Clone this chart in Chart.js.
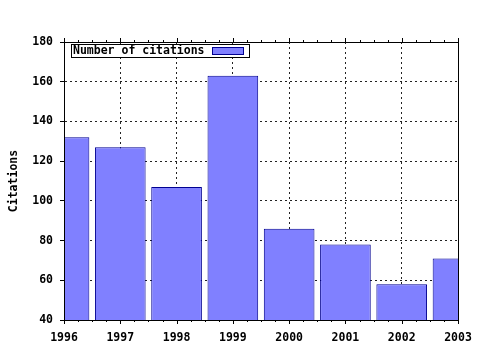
<!DOCTYPE html>
<html>
<head>
<meta charset="utf-8">
<script src="https://cdn.jsdelivr.net/npm/chart.js@4/dist/chart.umd.min.js"></script>
<style>
  html, body { margin: 0; padding: 0; background: #fff; }
  #wrap { width: 480px; height: 350px; }
</style>
</head>
<body>
<div id="wrap"><canvas id="citeChart" width="480" height="350"></canvas></div>
<script>
// ── data ───────────────────────────────
const years = [1996, 1997, 1998, 1999, 2000, 2001, 2002, 2003];
const citations = [132, 127, 107, 163, 86, 78, 58, 71];
const seriesLabel = 'Number of citations';
const yTicks = [40, 60, 80, 100, 120, 140, 160, 180];

const FONT = { family: '"DejaVu Sans Mono", monospace', size: 11.5, weight: 'bold' };
const BAR_FILL = '#8080ff';
const BAR_EDGE = '#000090';

// frame, top/bottom minor ticks, inset legend
const decor = {
  id: 'decor',
  afterDraw(chart) {
    const { ctx, chartArea: a, scales: { x } } = chart;
    ctx.save();
    ctx.setLineDash([]);
    ctx.strokeStyle = '#000';
    ctx.lineWidth = 1;
    // minor + major ticks on top and bottom
    for (let i = 0; i <= (years.length - 1) * 4; i++) {
      const px = Math.round(x.getPixelForValue(years[0] + i / 4)) + 0.5;
      const len = i % 4 === 0 ? 4 : 2;
      ctx.beginPath();
      ctx.moveTo(px, a.bottom); ctx.lineTo(px, a.bottom + len);
      ctx.moveTo(px, a.top); ctx.lineTo(px, a.top - len);
      ctx.stroke();
    }
    // frame
    ctx.strokeRect(Math.round(a.left) + 0.5, Math.round(a.top) + 0.5,
      Math.round(a.right - a.left), Math.round(a.bottom - a.top));
    // legend box
    const lx = a.left + 7, ly = a.top + 2;
    ctx.fillStyle = '#fff';
    ctx.fillRect(lx, ly, 178, 13);
    ctx.strokeRect(lx + 0.5, ly + 0.5, 178, 13);
    ctx.fillStyle = '#000';
    ctx.font = `${FONT.weight} ${FONT.size}px ${FONT.family}`;
    ctx.textBaseline = 'middle';
    ctx.fillText(seriesLabel, lx + 2, ly + 7.5);
    ctx.fillStyle = BAR_FILL;
    ctx.fillRect(lx + 141, ly + 4, 31, 6);
    ctx.strokeStyle = BAR_EDGE;
    ctx.strokeRect(lx + 141.5, ly + 3.5, 31, 7);
    ctx.restore();
  }
};

new Chart(document.getElementById('citeChart').getContext('2d'), {
  type: 'bar',
  data: {
    datasets: [{
      label: seriesLabel,
      data: years.map((yr, i) => ({ x: yr, y: citations[i] })),
      backgroundColor: BAR_FILL,
      borderColor: BAR_EDGE,
      borderWidth: 1,
      barPercentage: 0.9,
      categoryPercentage: 1.0
    }]
  },
  options: {
    responsive: false,
    animation: false,
    layout: { padding: { left: 0, right: 22, top: 42, bottom: 0 } },
    plugins: { legend: { display: false }, tooltip: { enabled: false } },
    scales: {
      x: {
        type: 'linear', min: years[0], max: years[years.length - 1], offset: false,
        afterBuildTicks: s => { s.ticks = years.map(v => ({ value: v })); },
        afterFit: s => { s.height = 30; s.paddingLeft = 0; s.paddingRight = 0; },
        ticks: { color: '#000', font: FONT, padding: 11, callback: v => String(v), maxRotation: 0, autoSkip: false },
        grid: { color: '#222', drawTicks: false, offset: false },
        border: { display: true, color: '#000', dash: [2, 3] }
      },
      y: {
        min: 40, max: 180,
        afterBuildTicks: s => { s.ticks = yTicks.map(v => ({ value: v })); },
        afterFit: s => { s.width = 64; s.paddingTop = 0; s.paddingBottom = 0; },
        ticks: { color: '#000', font: FONT, padding: 7 },
        grid: { color: '#222', tickLength: 4, tickColor: '#000', tickBorderDash: [] },
        border: { display: true, color: '#000', dash: [2, 3] },
        title: { display: true, text: 'Citations', color: '#000', font: FONT, padding: { top: 7, bottom: 0 } }
      }
    }
  },
  plugins: [decor]
});
</script>
</body>
</html>
